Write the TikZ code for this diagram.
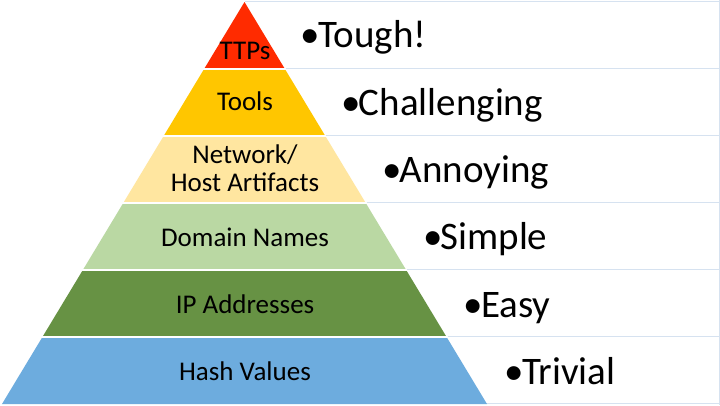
\documentclass[tikz,border=0pt]{standalone}
\usepackage{fontspec}
\setmainfont{Carlito}
\definecolor{cred}{RGB}{255,43,0}
\definecolor{cyel}{RGB}{255,198,0}
\definecolor{clyel}{RGB}{255,230,160}
\definecolor{clgrn}{RGB}{186,216,163}
\definecolor{cgrn}{RGB}{103,146,68}
\definecolor{cblu}{RGB}{109,172,222}
\definecolor{grid}{RGB}{214,226,240}
\newcommand{\bul}{•\kern-2pt}
\tikzset{
  lab/.style={anchor=base, font=\fontsize{27}{28.5}\selectfont, align=center, inner sep=0pt},
  hard/.style={anchor=base west, font=\fontsize{39}{44}\selectfont, inner sep=0pt},
  gridline/.style={draw=grid, line width=1pt},
}
\begin{document}
\begin{tikzpicture}[x=1pt,y=-1pt]
\useasboundingbox (0,0) rectangle (720,405);
\fill[white] (0,0) rectangle (720,405);
% table grid lines
\foreach \i in {0,...,6} {
  \draw[gridline] (244.5,{1.5+67*\i}) -- (720,{1.5+67*\i});
}
\draw[gridline] (719.5,0) -- (719.5,405);
% pyramid layers
\foreach \i/\c in {0/cred,1/cyel,2/clyel,3/clgrn,4/cgrn,5/cblu} {
  \fill[\c] ({244.5-40.4167*\i},{2+67*\i}) -- ({244.5+40.4167*\i},{2+67*\i})
    -- ({244.5+40.4167*(\i+1)},{2+67*(\i+1)}) -- ({244.5-40.4167*(\i+1)},{2+67*(\i+1)}) -- cycle;
}
\foreach \i in {1,...,5} {
  \draw[white, line width=1.6pt] ({244.5-40.4167*\i-1},{2+67*\i}) -- ({244.5+40.4167*\i+1},{2+67*\i});
}
% layer labels
\node[lab] (ttps) at (245,59.5) {TTPs};
\node[lab] (tools) at (245,110.5) {Tools};
\node[lab] (net) at (245,163) {Network/};
\node[lab] (host) at (245,191.5) {Host Artifacts};
\node[lab] (dom) at (245,246.5) {Domain Names};
\node[lab] (ip) at (245,313.3) {IP Addresses};
\node[lab] (hash) at (245,380.7) {Hash Values};
% difficulty labels
\node[hard] (tough) at (300.5,47.7) {\bul Tough!};
\node[hard] (chal) at (341.3,115) {\bul Challenging};
\node[hard] (ann) at (382.1,182.3) {\bul Annoying};
\node[hard] (simp) at (422.9,249.6) {\bul Simple};
\node[hard] (easy) at (463.7,317) {\bul Easy};
\node[hard] (triv) at (504.5,384.3) {\bul Trivial};
\end{tikzpicture}
\end{document}
